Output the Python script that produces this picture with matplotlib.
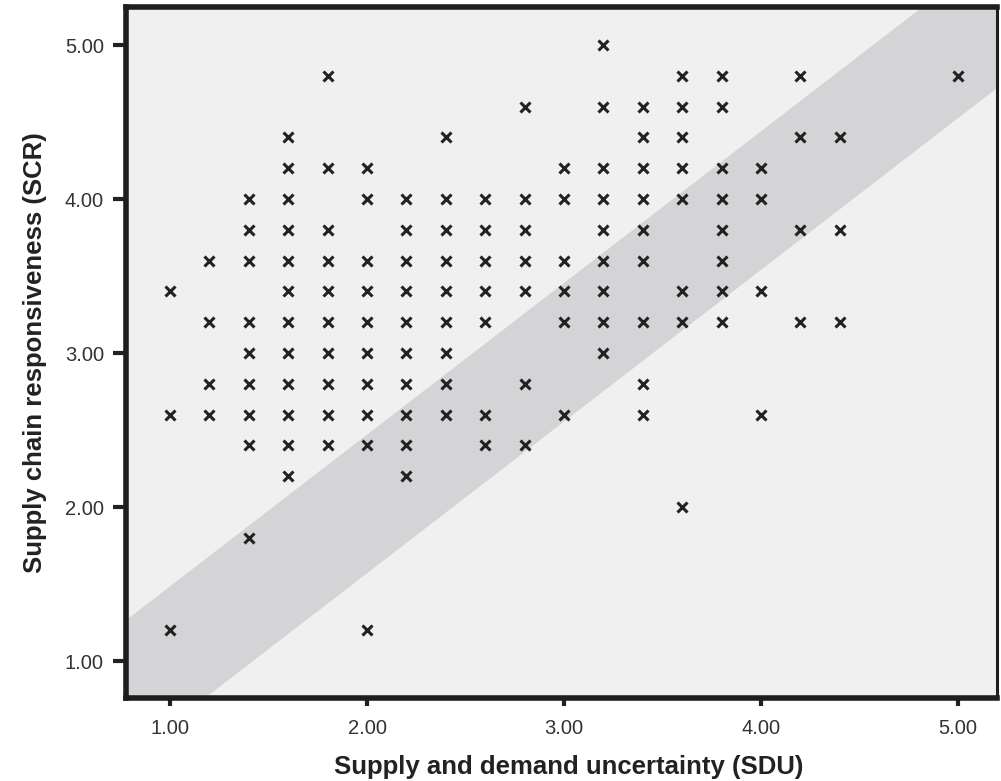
import matplotlib
matplotlib.use("Agg")
import matplotlib.pyplot as plt
import numpy as np

# SCR level of each row of points, and the SDU values found on that row
scr_levels = [5.0, 4.8, 4.6, 4.4, 4.2, 4.0, 3.8, 3.6, 3.4, 3.2,
              3.0, 2.8, 2.6, 2.4, 2.2, 2.0, 1.8, 1.2]
sdu_by_level = [
    [3.2],
    [1.8, 3.6, 3.8, 4.2, 5.0],
    [2.8, 3.2, 3.4, 3.6, 3.8],
    [1.6, 2.4, 3.4, 3.6, 4.2, 4.4],
    [1.6, 1.8, 2.0, 3.0, 3.2, 3.4, 3.6, 3.8, 4.0],
    [1.4, 1.6, 2.0, 2.2, 2.4, 2.6, 2.8, 3.0, 3.2, 3.4, 3.6, 3.8, 4.0],
    [1.4, 1.6, 1.8, 2.2, 2.4, 2.6, 2.8, 3.2, 3.4, 3.8, 4.2, 4.4],
    [1.2, 1.4, 1.6, 1.8, 2.0, 2.2, 2.4, 2.6, 2.8, 3.0, 3.2, 3.4, 3.8],
    [1.0, 1.6, 1.8, 2.0, 2.2, 2.4, 2.6, 2.8, 3.0, 3.2, 3.6, 3.8, 4.0],
    [1.2, 1.4, 1.6, 1.8, 2.0, 2.2, 2.4, 2.6, 3.0, 3.2, 3.4, 3.6, 3.8, 4.2, 4.4],
    [1.4, 1.6, 1.8, 2.0, 2.2, 2.4, 3.2],
    [1.2, 1.4, 1.6, 1.8, 2.0, 2.2, 2.4, 2.8, 3.4],
    [1.0, 1.2, 1.4, 1.6, 1.8, 2.0, 2.2, 2.4, 2.6, 3.0, 3.4, 4.0],
    [1.4, 1.6, 1.8, 2.0, 2.2, 2.6, 2.8],
    [1.6, 2.2],
    [3.6],
    [1.4],
    [1.0, 2.0],
]

# diagonal band: slope and the two intercepts
band_slope = 0.985
band_upper = 0.50
band_lower = -0.40

ticks = [1.0, 2.0, 3.0, 4.0, 5.0]
tick_labels = ["1.00", "2.00", "3.00", "4.00", "5.00"]

sdu = [x for row in sdu_by_level for x in row]
scr = [lvl for lvl, row in zip(scr_levels, sdu_by_level) for _ in row]

plt.rcParams["font.family"] = ["Liberation Sans", "DejaVu Sans"]

fig = plt.figure(figsize=(10.01, 7.81), dpi=100)
ax = fig.add_axes([0.1254, 0.1063, 0.8706, 0.8847])
ax.set_facecolor("#f0f0f0")

xb = np.array([0.0, 6.0])
ax.fill_between(xb, band_slope * xb + band_lower, band_slope * xb + band_upper,
                color="#d4d4d6", linewidth=0, zorder=1)

ax.plot(sdu, scr, linestyle="none", marker="x", markersize=6.5,
        markeredgewidth=2.2, color="#222222", zorder=3)

ax.set_xlim(0.774, 5.198)
ax.set_ylim(0.76, 5.247)
ax.set_xticks(ticks)
ax.set_xticklabels(tick_labels)
ax.set_yticks(ticks)
ax.set_yticklabels(tick_labels)

ax.tick_params(axis="x", length=6, width=3, pad=9, labelsize=14.5,
               colors="#222222", labelcolor="#333333")
ax.tick_params(axis="y", length=9.5, width=3, pad=6, labelsize=14.5,
               colors="#222222", labelcolor="#333333")

for side in ["left", "bottom", "top"]:
    ax.spines[side].set_linewidth(4)
    ax.spines[side].set_color("#1e1e1e")
ax.spines["right"].set_linewidth(2.2)
ax.spines["right"].set_color("#1e1e1e")

ax.set_xlabel("Supply and demand uncertainty (SDU)", fontsize=18.5,
              fontweight="bold", color="#222222")
ax.set_ylabel("Supply chain responsiveness (SCR)", fontsize=18.5,
              fontweight="bold", color="#222222")
ax.xaxis.set_label_coords(0.509, -0.083)
ax.yaxis.set_label_coords(-0.090, 0.5)

fig.savefig("out.png", dpi=100)
